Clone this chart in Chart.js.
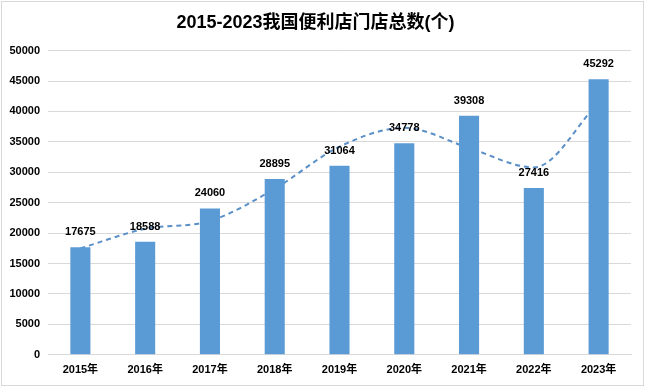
<!DOCTYPE html>
<html>
<head>
<meta charset="utf-8">
<script src="https://cdn.jsdelivr.net/npm/chart.js@4/dist/chart.umd.min.js"></script>
<style>
  html, body { margin: 0; padding: 0; background: #fff; }
  #wrap { width: 645px; height: 387px; }
</style>
</head>
<body>
<div id="wrap"><canvas id="bar-chart" width="645" height="387"></canvas></div>
<script>
var years = ['2015年', '2016年', '2017年', '2018年', '2019年', '2020年', '2021年', '2022年', '2023年'];
var storeCounts = [17675, 18588, 24060, 28895, 31064, 34778, 39308, 27416, 45292];
// dashed trend line at each year
var trendValues = [17500, 20700, 22000, 27300, 34200, 37300, 34000, 30800, 41500];
var yTicks = { min: 0, max: 50000, step: 5000 };

var fontFamily = '"Liberation Sans", "Noto Sans CJK SC", sans-serif';

// number above each bar
var barLabels = {
  id: 'barLabels',
  afterDatasetsDraw: function(chart) {
    var ctx = chart.ctx;
    var meta = chart.getDatasetMeta(0);
    ctx.save();
    ctx.font = 'bold 11px ' + fontFamily;
    ctx.fillStyle = '#000';
    ctx.textAlign = 'center';
    ctx.textBaseline = 'middle';
    meta.data.forEach(function(bar, i) {
      ctx.fillText(storeCounts[i], bar.x, bar.y - 15);
    });
    ctx.restore();
  }
};

// light grey frame round the whole picture
var frame = {
  id: 'frame',
  beforeDraw: function(chart) {
    var ctx = chart.ctx;
    ctx.save();
    ctx.fillStyle = '#fff';
    ctx.fillRect(0, 0, chart.width, chart.height);
    ctx.strokeStyle = '#d9d9d9';
    ctx.lineWidth = 1;
    ctx.strokeRect(1.5, 1.5, chart.width - 3, chart.height - 3);
    ctx.restore();
  }
};

var config = {
  type: 'bar',
  data: {
    labels: years,
    datasets: [
      {
        type: 'bar',
        data: storeCounts,
        backgroundColor: '#5b9bd5',
        barPercentage: 0.31,
        categoryPercentage: 1,
        order: 1
      },
      {
        type: 'line',
        data: trendValues,
        borderColor: '#5b8fc8',
        borderWidth: 2,
        borderDash: [5, 4],
        pointRadius: 0,
        fill: false,
        cubicInterpolationMode: 'monotone',
        order: 2
      }
    ]
  },
  options: {
    responsive: false,
    animation: false,
    layout: {
      padding: { top: 12, right: 14, bottom: 1, left: 0 }
    },
    plugins: {
      legend: { display: false },
      tooltip: { enabled: false },
      title: {
        display: true,
        text: '2015-2023我国便利店门店总数(个)',
        color: '#000',
        font: { family: fontFamily, size: 18, weight: 'bold' },
        padding: { top: 0, bottom: 17 }
      }
    },
    scales: {
      x: {
        grid: { display: false, drawTicks: false },
        border: { color: '#d9d9d9' },
        ticks: {
          color: '#000',
          padding: 9,
          font: { family: fontFamily, size: 11, weight: 'bold' }
        }
      },
      y: {
        min: yTicks.min,
        max: yTicks.max,
        afterFit: function(scale) { scale.width = 48; },
        grid: { color: '#d9d9d9', drawTicks: false },
        border: { display: false },
        ticks: {
          stepSize: yTicks.step,
          color: '#000',
          padding: 8,
          font: { family: fontFamily, size: 11, weight: 'bold' },
          callback: function(value) { return String(value); }
        }
      }
    }
  },
  plugins: [frame, barLabels]
};

var ctx = document.getElementById('bar-chart').getContext('2d');
var myChart = new Chart(ctx, config);
</script>
</body>
</html>
